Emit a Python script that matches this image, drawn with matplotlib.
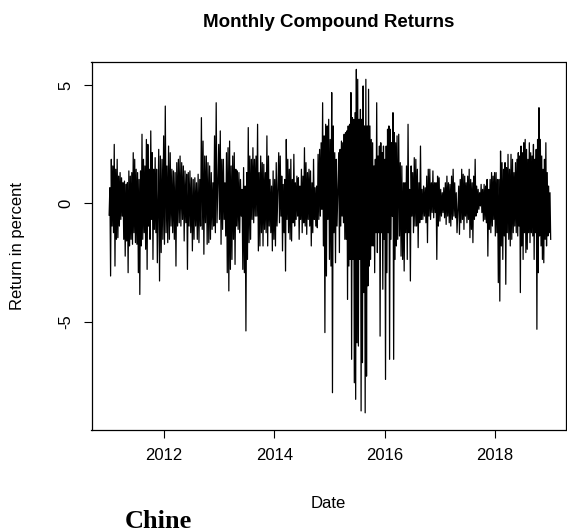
import numpy as np
import matplotlib
matplotlib.use("Agg")
import matplotlib.pyplot as plt

# Daily returns (percent), read as alternating highs/lows per period segment
seg_start = [2011.00, 2011.90, 2012.989, 2014.078, 2015.167, 2016.256, 2017.345, 2018.426]
seg_end = [2011.875, 2012.958, 2014.047, 2015.136, 2016.238, 2017.314, 2018.416, 2019.014]

ret_a = [-0.5, 0.66, -3.07, 1.86, -0.96, 1.58, -1.24, 2.49, -2.65, 1.44, -1.52, 1.86, -1.45, 1.15, -0.96,
         1.30, -0.68, 1.08, -0.54, 0.87, -1.52, 0.94, -2.23, 0.80, -1.59, 0.87, -2.93, 1.37, -1.80, 1.15,
         -1.52, 1.30, -1.73, 2.14, -1.24, 1.86, -1.66, 1.44, -1.73, 1.30, -2.93, 1.01, -3.85, 1.37, -1.80,
         2.92, -1.52, 1.86, -1.24, 1.58, -1.94, 2.70, -2.79, 2.49, -0.96, 1.44, -1.52, 3.06, -0.68, 2.14,
         -2.37, 1.44, -1.10, 1.93, -1.24, 1.44, -2.51]
ret_b = [2.28, -3.28, 2.00, -2.08, 1.86, -1.52, 2.85, -1.73, 4.11, -1.24, 1.58, -1.66, 2.42, -1.52, 2.14,
         -0.96, 1.44, -1.24, 1.37, -1.52, 1.30, -2.65, 1.72, -0.96, 1.86, -0.82, 2.00, -0.96, 1.72, -0.68,
         1.58, -1.59, 1.37, -0.82, 1.23, -2.79, 1.30, -0.96, 1.37, -1.24, 1.08, -2.01, 1.01, -1.52, 1.08,
         -0.96, 0.87, -1.52, 1.23, -1.66, 1.01, -0.96, 3.62, -1.10, 2.63, -2.15, 2.00, -0.82, 2.00, -1.73,
         1.72, -1.66, 1.58, -1.52, 1.30, -1.10, 0.87, -0.96, 2.85, -1.24, 4.25, -0.82]
ret_c = [2.49, -0.68, 3.06, -1.73, 1.86, -1.10, 1.86, -0.68, 0.87, -1.38, 2.14, -2.93, 2.35, -3.70, 2.63,
         -2.79, 1.58, -2.37, 2.00, -1.52, 2.14, -2.58, 1.44, -0.96, 1.37, -1.10, 1.30, -1.24, 1.01, -0.54,
         0.59, -2.79, 1.51, -2.93, 0.73, -5.39, 1.30, -2.37, 3.20, -1.66, 2.00, -1.52, 1.86, -0.68, 2.35,
         -0.82, 1.86, -0.54, 2.00, -0.54, 3.34, -2.01, 1.30, -1.80, 2.00, -1.24, 1.72, -1.80, 1.65, -1.10,
         1.30, -1.24, 2.85, -1.80, 2.00, -0.96, 1.01, -1.24, 0.73, -2.01, 1.37, -1.52, 1.01, -1.80, 1.72, -0.96]
ret_d = [2.14, -0.82, 2.00, -0.54, 1.15, -2.01, 0.80, -1.24, 1.01, -2.86, 2.70, -0.68, 1.86, -1.24, 1.44,
         -1.52, 1.86, -1.59, 1.01, -0.82, 2.07, -0.96, 0.87, -0.68, 1.15, -0.54, 1.08, -1.52, 0.73, -0.68,
         1.44, -1.24, 1.15, -0.82, 2.35, -0.96, 1.72, -1.31, 1.30, -0.68, 1.44, -0.96, 1.37, -1.80, 0.87,
         -1.24, 1.86, -0.68, 0.66, -0.96, 0.73, -1.03, 2.07, -0.68, 2.28, -0.54, 2.56, -0.25, 4.25, -1.80,
         2.85, -5.46, 3.34, -3.07, 3.27, -0.68, 3.55, -2.37, 2.70, -2.65, 4.68, -8.0, 3.27, -1.24, 2.14,
         -2.51, 1.86, -0.96]
ret_e = [2.14, -2.08, 2.28, -0.96, 2.63, -0.54, 2.56, -0.82, 2.92, -1.52, 2.99, -1.52, 3.06, -4.06, 3.27,
         -2.65, 3.34, -2.37, 4.68, -6.59, 3.62, -2.37, 3.55, -7.58, 3.83, -8.28, 5.66, -5.89, 5.24, -6.03,
         3.55, -2.37, 3.97, -8.77, 3.55, -6.73, 4.96, -3.77, 3.27, -8.85, 5.24, -7.30, 3.27, -3.49, 4.82,
         -2.65, 3.27, -2.37, 2.70, -1.80, 2.56, -1.80, 1.58, -2.93, 1.86, -1.24, 4.25, -2.08, 2.00, -1.24,
         2.42, -5.61, 2.56, -1.24, 2.14, -3.63, 2.42, -1.52, 1.86, -7.44, 2.42, -2.93, 3.13, -1.24, 3.27,
         -6.59, 3.13, -1.52, 2.56, -0.54, 3.83, -6.59, 2.99, -2.37, 2.56, -1.80, 2.85, -1.52]
ret_f = [2.92, -1.38, 1.72, -2.23, 1.58, -2.37, 0.87, -2.86, 0.87, -1.24, 1.58, -2.37, 3.34, -1.24, 0.59,
         -3.28, 1.58, -0.54, 1.30, -1.24, 1.93, -0.96, 1.86, -0.96, 1.44, -1.87, 0.87, -0.82, 2.42, -0.68,
         0.59, -0.68, 0.73, -0.54, 0.66, -0.82, 1.15, -1.66, 1.44, -0.54, 1.44, -0.68, 0.87, -0.39, 1.37,
         -0.61, 0.87, -0.39, 0.87, -2.37, 1.15, -0.96, 1.08, -0.75, 0.59, -0.54, 0.45, -0.39, 0.66, -0.61,
         0.87, -0.89, 1.15, -0.54, 0.87, -0.82, 0.80, -0.96, 1.15, -0.68, 1.44, -0.54, 0.87, -0.61, 0.45, -1.24]
ret_g = [0.73, -1.31, 1.01, -0.82, 1.44, -0.68, 1.23, -1.10, 1.15, -0.54, 0.87, -0.82, 1.15, -0.68, 1.44,
         -1.45, 1.01, -1.10, 0.87, -1.66, 1.15, -0.68, 1.86, -0.54, 0.73, -0.39, 0.59, -0.25, 0.45, -0.11,
         0.80, -0.39, 0.59, -0.75, 0.80, -0.68, 0.73, -0.82, 1.01, -2.23, 0.59, -1.10, 1.01, -1.24, 1.30,
         -0.96, 1.15, -0.68, 1.30, -1.38, 1.30, -1.24, 1.01, -3.35, 1.01, -4.13, 2.21, -1.80, 1.72, -2.37,
         1.44, -1.38, 1.72, -3.42, 1.51, -1.24, 2.07, -1.52, 1.44, -1.80, 2.07, -1.52, 1.86, -1.24, 1.30,
         -0.96, 1.72, -1.24, 1.86, -1.38]
ret_h = [2.14, -0.96, 2.00, -3.77, 2.42, -1.80, 2.14, -2.37, 2.56, -1.24, 2.70, -2.08, 2.28, -1.94, 1.86,
         -1.24, 2.56, -1.66, 2.14, -1.24, 2.00, -1.38, 2.49, -2.37, 1.86, -1.24, 2.28, -5.32, 2.70, -2.93,
         4.04, -1.38, 2.70, -1.80, 2.00, -2.37, 1.44, -2.51, 1.86, -1.52, 2.56, -1.80, 1.30, -1.38, 0.73,
         -1.24, 0.45, -1.52]

segments = [ret_a, ret_b, ret_c, ret_d, ret_e, ret_f, ret_g, ret_h]

dates, returns = [], []
for s, e, vals in zip(seg_start, seg_end, segments):
    dates.extend(np.linspace(s, e, len(vals)))
    returns.extend(vals)

year_ticks = [2012, 2014, 2016, 2018]
y_ticks = [5, 0, -5]

plt.rcParams['font.family'] = ['Liberation Sans', 'DejaVu Sans']

fig = plt.figure(figsize=(5.67, 5.32), dpi=100)
ax = fig.add_axes([91.5 / 567, 1 - 429.7 / 532, (565.5 - 91.5) / 567, (429.7 - 62.2) / 532])
ax.plot(dates, returns, color='black', lw=0.9)

ax.set_xlim(2010.68, 2019.283)
ax.set_ylim(-9.563, 5.963)
ax.set_xticks(year_ticks)
ax.set_xticklabels([str(t) for t in year_ticks], fontsize=12)
ax.set_yticks(y_ticks)
ax.set_yticklabels([str(t) for t in y_ticks], fontsize=12, rotation=90, va='center')
ax.tick_params(direction='out', length=6, width=0.8, pad=7, colors='black')
for sp in ax.spines.values():
    sp.set_linewidth(0.9)
    sp.set_color('black')

fig.text(329 / 567, 1 - 22.4 / 532, 'Monthly Compound Returns', ha='center', va='center',
         fontsize=13.5, fontweight='bold')
fig.text(328 / 567, 1 - 503 / 532, 'Date', ha='center', va='center', fontsize=12)
fig.text(18 / 567, 1 - 246 / 532, 'Return in percent', ha='center', va='center', fontsize=12, rotation=90)
fig.text(158.6 / 567, 1 - 521 / 532, 'Chine', ha='center', va='center', fontsize=19,
         fontweight='bold', family=['Liberation Serif', 'DejaVu Serif'])

fig.savefig('out.png', dpi=100)
